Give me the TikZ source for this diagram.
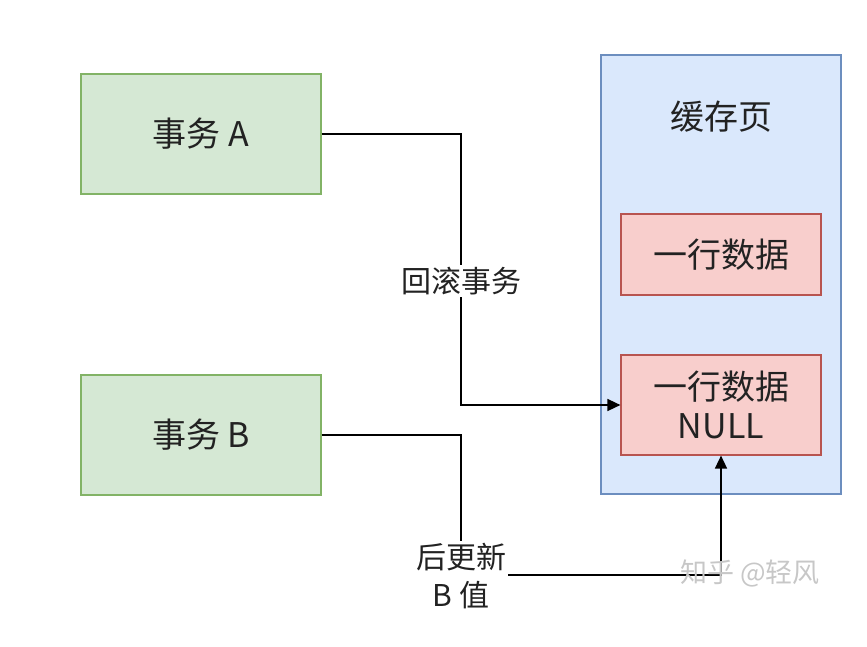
\documentclass[tikz,border=0pt]{standalone}
\usepackage{fontspec}
\setmainfont{Noto Sans CJK SC}
\usetikzlibrary{arrows.meta}
\definecolor{gfill}{HTML}{D5E8D4}
\definecolor{gdraw}{HTML}{82B366}
\definecolor{bfill}{HTML}{DAE8FC}
\definecolor{bdraw}{HTML}{6C8EBF}
\definecolor{rfill}{HTML}{F8CECC}
\definecolor{rdraw}{HTML}{B85450}
\definecolor{txt}{HTML}{222222}
\begin{document}
\begin{tikzpicture}[x=1pt,y=-1pt,
  trans/.style={draw=gdraw,fill=gfill,line width=1.2pt,minimum width=240pt,minimum height=120pt,inner sep=0pt,font=\fontsize{34}{40}\selectfont,text=txt},
  page/.style={draw=bdraw,fill=bfill,line width=1.2pt,minimum width=240pt,minimum height=439pt,inner sep=0pt},
  rowbox/.style={draw=rdraw,fill=rfill,line width=1.2pt,minimum width=200pt,inner sep=0pt,align=center,font=\fontsize{34}{39}\selectfont,text=txt},
  conn/.style={draw=black,line width=1.6pt},
  arr/.style={conn,-{Triangle[length=13pt,width=12pt]}},
  lbl/.style={fill=white,inner sep=2pt,align=center,font=\fontsize{30}{38}\selectfont,text=txt}]
\useasboundingbox (0,0) rectangle (867,647);
\node[trans] (ta) at (201,134) {事务 A};
\node[trans] (tb) at (201,435) {事务 B};
\node[page] (pg) at (721,274.5) {};
\node[font=\fontsize{34}{40}\selectfont,text=txt] (pgl) at (721,117) {缓存页};
\node[rowbox,minimum height=81pt] (r1) at (721,254.5) {一行数据};
\node[rowbox,minimum height=100pt] (r2) at (721,405) {一行数据\\NULL};
\coordinate (a1) at (461,134);
\coordinate (a2) at (461,405);
\draw[arr] (ta.east) -- (a1) -- (a2) -- (r2.west);
\node[lbl] (la) at (461,281) {回滚事务};
\coordinate (b1) at (461,435);
\coordinate (b2) at (461,575);
\coordinate (b3) at (721,575);
\draw[arr] (tb.east) -- (b1) -- (b2) -- (b3) -- (r2.south);
\node[lbl] (lb) at (461,576) {后更新\\B 值};
\node[text=black!22,font=\fontsize{27}{32}\selectfont] (wm) at (750,573) {知乎 @轻风};
\end{tikzpicture}
\end{document}
